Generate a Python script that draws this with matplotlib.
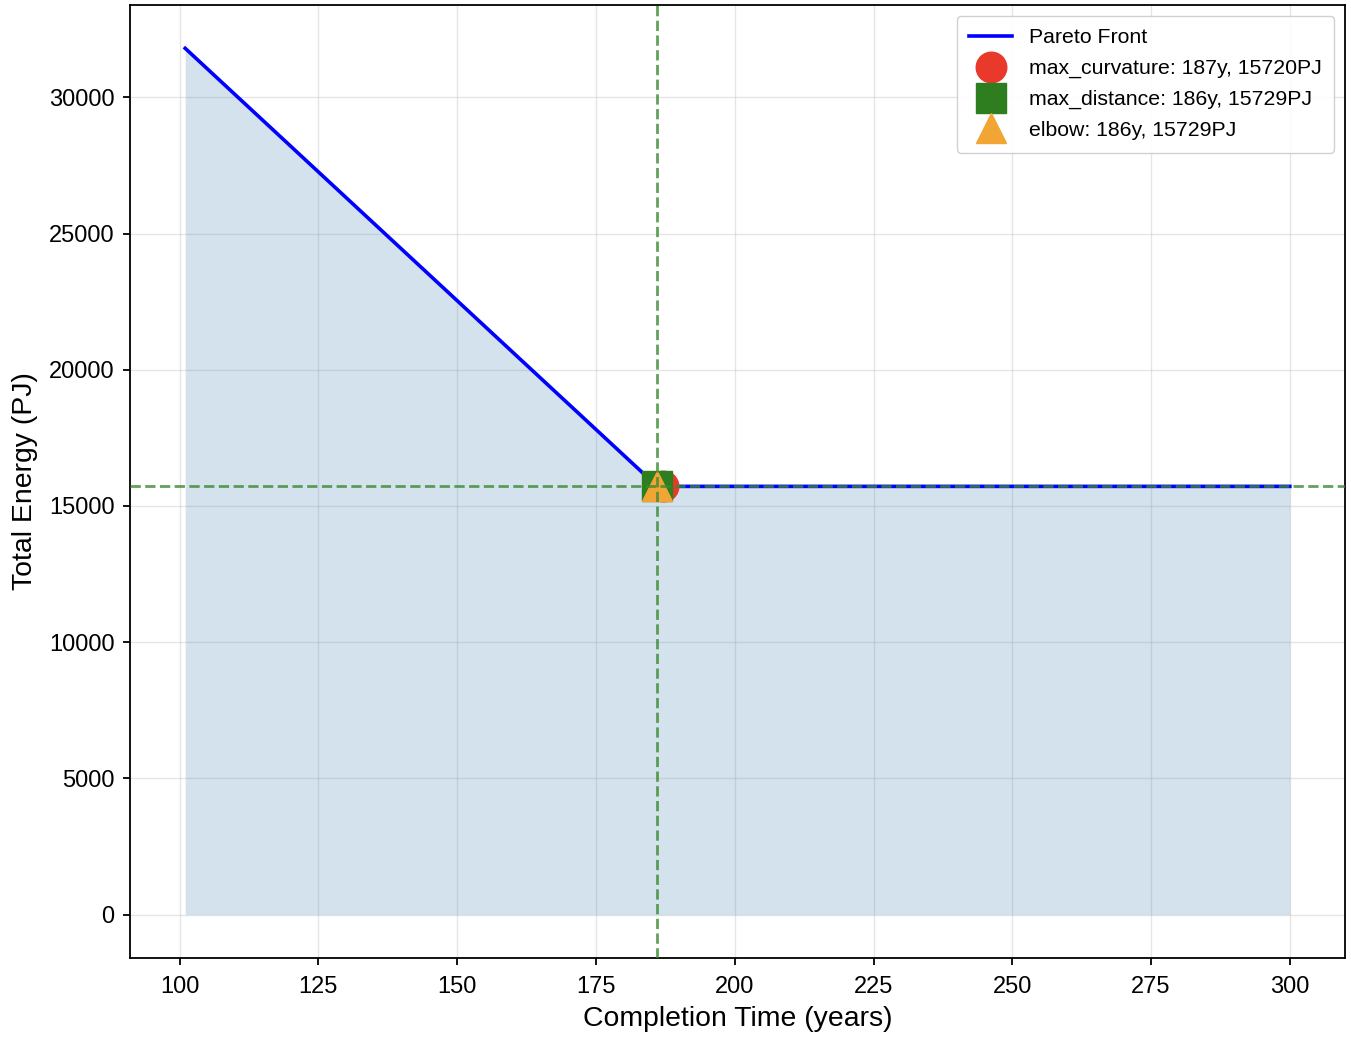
import matplotlib
matplotlib.use("Agg")
import matplotlib.pyplot as plt

# Pareto front data
completion_time = [101, 186, 187, 300]
total_energy = [31800, 15729, 15720, 15720]

# knee points
knee_names = ["max_curvature", "max_distance", "elbow"]
knee_time = [187, 186, 186]
knee_energy = [15720, 15729, 15729]
knee_markers = ["o", "s", "^"]
knee_colors = ["#e8392a", "#2e7d1f", "#f0a535"]

x_ticks = [100, 125, 150, 175, 200, 225, 250, 275, 300]
y_ticks = [0, 5000, 10000, 15000, 20000, 25000, 30000]

plt.rcParams['font.family'] = ['Liberation Sans', 'DejaVu Sans']

fig = plt.figure(figsize=(13.51, 10.39), dpi=100)
ax = fig.add_axes([0.0962, 0.078, 0.8994, 0.9172])

ax.fill_between(completion_time, total_energy, 0, color="steelblue", alpha=0.23, linewidth=0)
ax.plot(completion_time, total_energy, color="blue", linewidth=2.6, label="Pareto Front", zorder=3)

for name, t, e, m, c in zip(knee_names, knee_time, knee_energy, knee_markers, knee_colors):
    ax.plot([t], [e], linestyle="none", marker=m, color=c, markersize=22,
            label=f"{name}: {t}y, {e}PJ", zorder=4)

ax.axvline(knee_time[-1], color="#3a8a30", linestyle="--", linewidth=2, alpha=0.8, zorder=5)
ax.axhline(knee_energy[-1], color="#3a8a30", linestyle="--", linewidth=2, alpha=0.8, zorder=5)

ax.set_xticks(x_ticks)
ax.set_yticks(y_ticks)
ax.tick_params(axis="both", labelsize=17, direction="out", length=5, width=1.3, colors="black")
ax.tick_params(axis="x", pad=8)
ax.tick_params(axis="y", pad=6)
ax.grid(True, color="#d0d0d0", alpha=0.55, linewidth=1)
ax.set_axisbelow(True)
for s in ax.spines.values():
    s.set_linewidth(1.3)
    s.set_color("black")

ax.set_xlabel("Completion Time (years)", fontsize=20.4, labelpad=6)
ax.set_ylabel("Total Energy (PJ)", fontsize=20.4, labelpad=8)

leg = ax.legend(loc="upper right", fontsize=15.3, frameon=True, fancybox=True,
                framealpha=0.9, edgecolor="#cccccc", markerscale=1.0,
                handletextpad=0.8, borderaxespad=0.5, labelspacing=0.55,
                borderpad=0.6)

fig.savefig("out.png", dpi=100)
